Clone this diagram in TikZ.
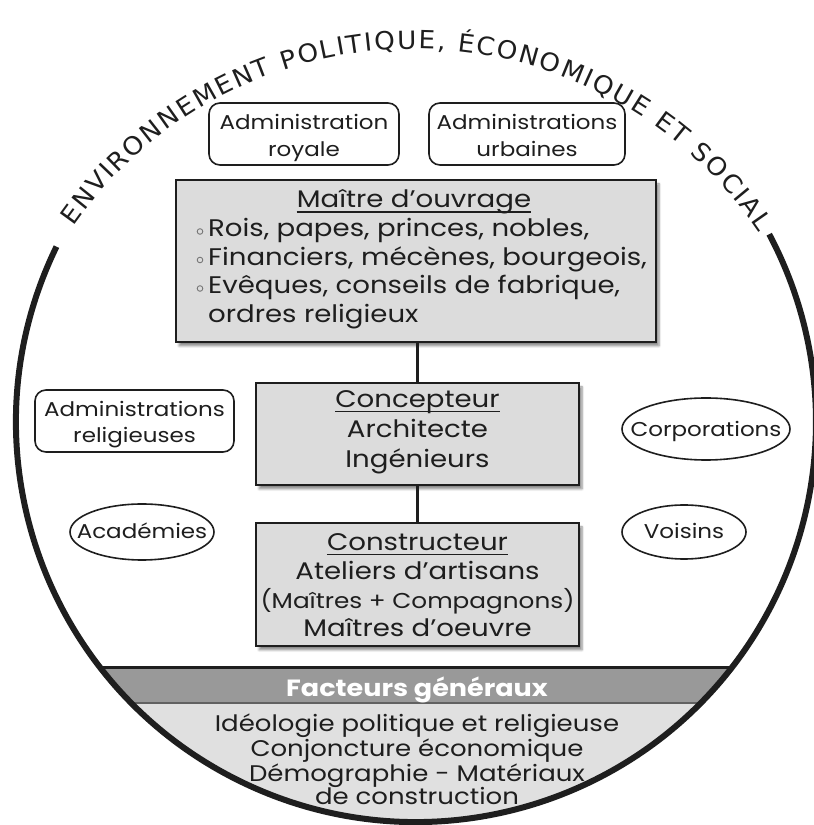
\documentclass[tikz,border=0pt]{standalone}
\usepackage{fontspec}
\setmainfont{Poppins}[FakeStretch=1.15]
\newfontfamily\envfont{DejaVu Sans}[FakeStretch=1.05]
\usetikzlibrary{shapes.geometric,decorations.text,shadows.blur}

\definecolor{ink}{HTML}{1E1E1E}
\definecolor{boxfill}{HTML}{DCDCDC}
\definecolor{bandfill}{HTML}{999999}
\definecolor{basefill}{HTML}{E0E0E0}
\newcommand\envstyle{\envfont\fontsize{25}{25}\selectfont}

\begin{document}
\begin{tikzpicture}[x=1pt,y=1pt,
  actor/.style={draw=ink, line width=2.5pt, fill=boxfill, inner sep=0pt,
    blur shadow={shadow xshift=3pt, shadow yshift=-4pt, shadow blur steps=6, shadow opacity=45}},
  instit/.style={draw=ink, line width=1.6pt, rounded corners=11pt, fill=white, inner sep=0pt},
  guild/.style={draw=ink, line width=1.6pt, ellipse, fill=white, inner sep=0pt},
  body/.style={text=ink, font=\fontsize{24}{24}\selectfont, inner sep=0pt, anchor=base},
  label/.style={text=ink, font=\fontsize{20}{20}\selectfont, inner sep=0pt, anchor=base},
  small/.style={text=ink, font=\fontsize{21.5}{21.5}\selectfont, inner sep=0pt, anchor=base},
  factor/.style={text=ink, font=\fontsize{22.6}{22.6}\selectfont, inner sep=0pt, anchor=base},
  link/.style={draw=ink, line width=2.5pt},
  uline/.style={draw=ink, line width=1.1pt},
  dot/.style={draw=ink!60, line width=0.9pt},
]
\useasboundingbox (0,0) rectangle (814,825);

% general factors: two bands cut by the circle
\begin{scope}
  \clip (416,403) circle (400pt);
  \fill[basefill] (0,0) rectangle (814,122);
  \fill[bandfill] (0,122) rectangle (814,157);
  \draw[ink!70, line width=1.2pt] (0,122) -- (814,122);
  \draw[ink, line width=3pt] (0,157) -- (814,157);
\end{scope}
\node[text=white, font=\bfseries\fontsize{23.5}{23.5}\selectfont, inner sep=0pt, anchor=base] (fg) at (417,128) {Facteurs généraux};
\node[factor] (f1) at (417,93) {Idéologie politique et religieuse};
\node[factor] (f2) at (417,68) {Conjoncture économique};
\node[factor] (f3) at (417,43) {Démographie - Matériaux};
\node[factor] (f4) at (417,20) {de construction};

% outer circle, open at the top
\draw[ink, line width=6pt] (416,403) ++(154:400pt) arc (154:388:400pt);

% environment title along the top
\path[decorate, decoration={text along path, text align={fit to path}, text color=ink,
  text={|\envstyle|ENVIRONNEMENT POLITIQUE, ÉCONOMIQUE ET SOCIAL}}]
  (414,360) ++(145:416pt) arc (145:34:416pt);

% institutions
\node[instit, minimum width=190pt, minimum height=62pt] (roy) at (304,691) {};
\node[label] (royt1) at (304,695) {Administration};
\node[label] (royt2) at (304,668) {royale};
\node[instit, minimum width=196pt, minimum height=62pt] (urb) at (527,691) {};
\node[label] (urbt1) at (527,695) {Administrations};
\node[label] (urbt2) at (527,668) {urbaines};
\node[instit, minimum width=199pt, minimum height=62pt] (rel) at (134.5,404) {};
\node[label] (relt1) at (134.5,408) {Administrations};
\node[label] (relt2) at (134.5,382) {religieuses};
\node[guild, minimum width=168pt, minimum height=62pt] (corp) at (706,396) {};
\node[label] (corpt) at (706,388.5) {Corporations};
\node[guild, minimum width=144pt, minimum height=56pt] (acad) at (142,293) {};
\node[label] (acadt) at (142,286) {Académies};
\node[guild, minimum width=124pt, minimum height=54pt] (vois) at (684,293) {};
\node[label] (voist) at (684,286) {Voisins};

% maître d'ouvrage
\node[actor, minimum width=480pt, minimum height=162pt] (mo) at (416,564) {};
\node[body] (mot) at (414,617) {Maître d’ouvrage};
\draw[uline] ([yshift=-4pt]mot.base west) -- ([yshift=-4pt]mot.base east);
\draw[dot] (200,593.5) circle (2.8pt);
\draw[dot] (200,565) circle (2.8pt);
\draw[dot] (200,536.5) circle (2.8pt);
\node[body, anchor=base west] (mo1) at (208,588) {Rois, papes, princes, nobles,};
\node[body, anchor=base west] (mo2) at (208,559.5) {Financiers, mécènes, bourgeois,};
\node[body, anchor=base west] (mo3) at (208,531) {Evêques, conseils de fabrique,};
\node[body, anchor=base west] (mo4) at (208,502) {ordres religieux};

% concepteur
\node[actor, minimum width=323pt, minimum height=102pt] (conc) at (417.5,391) {};
\node[body] (conct) at (417.5,417) {Concepteur};
\draw[uline] ([yshift=-3.5pt]conct.base west) -- ([yshift=-3.5pt]conct.base east);
\node[body] (conc1) at (417.5,387) {Architecte};
\node[body] (conc2) at (417.5,357) {Ingénieurs};

% constructeur
\node[actor, minimum width=323pt, minimum height=123pt] (cons) at (417.5,240.5) {};
\node[body] (const) at (417.5,274) {Constructeur};
\draw[uline] ([yshift=-3.5pt]const.base west) -- ([yshift=-3.5pt]const.base east);
\node[body] (cons1) at (417.5,245) {Ateliers d’artisans};
\node[small] (cons2) at (417.5,216) {(Maîtres + Compagnons)};
\node[body] (cons3) at (417.5,188) {Maîtres d’oeuvre};

% hierarchy links
\draw[link] (conc.north |- mo.south) -- (conc.north);
\draw[link] (conc.south) -- (cons.north);
\end{tikzpicture}
\end{document}
